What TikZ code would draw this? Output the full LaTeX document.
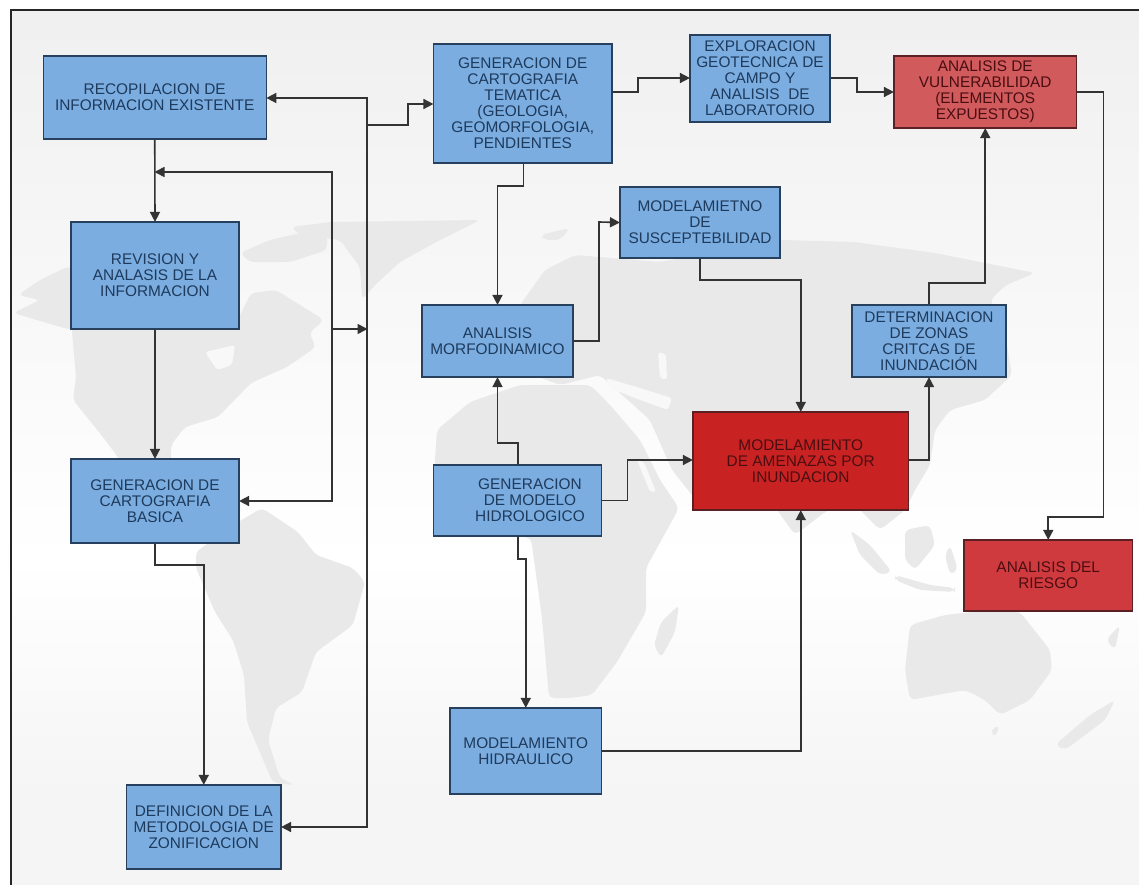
\documentclass[tikz,border=0pt]{standalone}
\usepackage{fontspec}
\setmainfont{Liberation Sans}
\usetikzlibrary{arrows.meta}
\definecolor{bluefill}{HTML}{7BADE0}
\definecolor{blueedge}{HTML}{26405E}
\definecolor{bluetext}{HTML}{1E3A5C}
\definecolor{redtext}{HTML}{4A0E12}
\definecolor{redA}{HTML}{C82222}
\definecolor{redB}{HTML}{D05A5C}
\definecolor{redC}{HTML}{CF3A3E}
\definecolor{redge}{HTML}{5A2024}
\definecolor{land}{HTML}{E9E9E9}
\definecolor{seaC}{HTML}{F8F8F8}
\definecolor{lineC}{HTML}{333333}
\tikzset{
  bluebox/.style={draw=blueedge,line width=1.2pt,fill=bluefill,text=bluetext,inner sep=0pt,align=center,
    font=\fontsize{15.4}{16}\selectfont},
  redbox/.style={draw=redge,line width=1.2pt,text=redtext,inner sep=0pt,align=center,
    font=\fontsize{15.4}{16}\selectfont},
  conn/.style={draw=lineC,line width=1.6pt},
  arr/.style={conn,-{Triangle[length=10pt,width=10pt]},shorten >=-0.5pt},
  landmass/.style={fill=land,draw=none,rounded corners=5pt},
  sea/.style={fill=seaC,draw=none,rounded corners=3pt}
}
\begin{document}
\begin{tikzpicture}[x=1pt,y=-1pt]
\useasboundingbox (0,0) rectangle (1139,885);
% page background
\fill[white] (0,0) rectangle (1139,885);
\shade[top color=black!6,bottom color=white] (11,10) rectangle (1139,560);
\shade[top color=white,bottom color=black!4] (11,560) rectangle (1139,800);
\fill[black!4] (11,800) rectangle (1139,885);
% world map
\fill[landmass] (13,313) -- (40,300) -- (18,295) -- (40,280) -- (69,266) -- (110,300) -- (71,330) -- cycle;
\fill[landmass] (71,320) -- (76,377) -- (73,400) -- (95,427) -- (109,445) -- (127,470) -- (171,470) -- (171,445) -- (185,427) -- (218,417) -- (251,383) -- (287,367) -- (316,347) -- (309,333) -- (324,320) -- (276,290) -- (251,293) -- (236,323) -- cycle;
\fill[sea] (205,352) -- (235,345) -- (232,365) -- (217,370) -- cycle;
\fill[landmass] (240,253) -- (270,240) -- (327,227) -- (327,250) -- (290,262) -- (250,262) -- cycle;
\fill[landmass] (291,227) -- (330,222) -- (480,220) -- (440,240) -- (400,262) -- (375,285) -- (362,300) -- (360,267) -- (340,240) -- (300,235) -- cycle;
\fill[landmass] (196,552) -- (233,525) -- (262,508) -- (298,532) -- (316,555) -- (353,568) -- (365,582) -- (353,625) -- (316,652) -- (302,692) -- (276,708) -- (268,740) -- (280,778) -- (295,785) -- (273,783) -- (247,722) -- (244,675) -- (233,640) -- (215,612) -- (196,568) -- cycle;
\fill[landmass] (437,430) -- (470,402) -- (520,385) -- (590,385) -- (610,405) -- (640,440) -- (660,480) -- (679,508) -- (646,568) -- (646,612) -- (617,662) -- (592,695) -- (570,698) -- (549,698) -- (542,618) -- (531,538) -- (480,530) -- (433,490) -- cycle;
\fill[landmass] (679,605) -- (675,632) -- (661,658) -- (654,645) -- (661,622) -- cycle;
\fill[landmass] (540,235) -- (570,228) -- (560,240) -- (545,240) -- cycle;
\fill[landmass] (520,305) -- (545,270) -- (575,255) -- (660,262) -- (781,240) -- (854,242) -- (935,253) -- (1035,273) -- (1006,285) -- (990,300) -- (1006,340) -- (1012,375) -- (985,400) -- (950,410) -- (935,430) -- (930,465) -- (915,490) -- (905,510) -- (880,530) -- (850,500) -- (825,512) -- (795,535) -- (770,500) -- (735,485) -- (700,505) -- (672,470) -- (650,420) -- (600,375) -- (560,385) -- (520,370) -- cycle;
\fill[sea] (606,378) -- (640,388) -- (672,398) -- (668,410) -- (640,400) -- (610,388) -- cycle;
\fill[sea] (658,352) -- (666,354) -- (667,380) -- (660,378) -- cycle;
\fill[sea] (637,460) -- (644,462) -- (656,492) -- (650,492) -- cycle;
\fill[landmass] (850,530) -- (870,545) -- (892,572) -- (880,575) -- (860,555) -- cycle;
\fill[landmass] (905,530) -- (930,525) -- (935,545) -- (915,570) -- (905,560) -- cycle;
\fill[landmass] (895,575) -- (930,585) -- (955,588) -- (955,592) -- (920,590) -- (895,580) -- cycle;
\fill[landmass] (945,555) -- (950,545) -- (958,570) -- (950,575) -- cycle;
\fill[landmass] (910,625) -- (945,615) -- (990,610) -- (1020,612) -- (1050,650) -- (1052,670) -- (1030,700) -- (1000,715) -- (985,700) -- (965,690) -- (910,700) -- (905,670) -- cycle;
\fill[landmass] (990,730) -- (1000,725) -- (995,738) -- cycle;
\fill[landmass] (1055,745) -- (1090,715) -- (1115,700) -- (1105,720) -- (1065,750) -- cycle;
\fill[landmass] (1120,625) -- (1106,640) -- (1115,650) -- cycle;
% frame
\draw[black!85,line width=2pt] (11,885) -- (11,10) -- (1139,10);
% nodes
\node[bluebox,minimum width=223pt,minimum height=83pt] (rec) at (154.75,97.5) {RECOPILACION DE\\INFORMACION EXISTENTE};
\node[bluebox,minimum width=168pt,minimum height=107pt] (rev) at (155,275.5) {REVISION Y\\ANALASIS DE LA\\INFORMACION};
\node[bluebox,minimum width=168pt,minimum height=84pt] (bas) at (155,501) {GENERACION DE\\CARTOGRAFIA\\BASICA};
\node[bluebox,minimum width=154.5pt,minimum height=84pt] (def) at (203.75,827) {DEFINICION DE LA\\METODOLOGIA DE\\ZONIFICACION};
\node[bluebox,minimum width=178.5pt,minimum height=119pt] (tem) at (522.75,103.5) {GENERACION DE\\CARTOGRAFIA\\TEMATICA\\(GEOLOGIA,\\GEOMORFOLOGIA,\\PENDIENTES};
\node[bluebox,minimum width=140pt,minimum height=87pt] (geo) at (760,78.5) {EXPLORACION\\GEOTECNICA DE\\CAMPO Y\\ANALISIS~ DE\\LABORATORIO};
\node[redbox,fill=redB,minimum width=182.5pt,minimum height=72pt] (vul) at (985.25,92) {ANALISIS DE\\VULNERABILIDAD\\(ELEMENTOS\\EXPUESTOS)};
\node[bluebox,minimum width=160pt,minimum height=71pt] (sus) at (700,222.5) {MODELAMIETNO\\DE\\SUSCEPTEBILIDAD};
\node[bluebox,minimum width=151pt,minimum height=72pt] (mor) at (497.5,341) {ANALISIS\\MORFODINAMICO};
\node[bluebox,minimum width=154pt,minimum height=72pt] (det) at (929,341) {DETERMINACION\\DE ZONAS\\CRITCAS DE\\INUNDACIÓN};
\node[bluebox,minimum width=168pt,minimum height=71pt] (hid) at (517.5,500.5) {\hspace*{25pt}GENERACION\\\hspace*{25pt}DE MODELO\\\hspace*{25pt}HIDROLOGICO};
\node[redbox,fill=redA,minimum width=215.5pt,minimum height=98pt] (ame) at (800.75,461) {MODELAMIENTO\\DE AMENAZAS POR\\INUNDACION};
\node[bluebox,minimum width=151.5pt,minimum height=86pt] (hdr) at (525.75,751) {MODELAMIENTO\\HIDRAULICO};
\node[redbox,fill=redC,minimum width=168.5pt,minimum height=71pt] (rie) at (1048.25,575.5) {ANALISIS DEL\\RIESGO};
% trunk and feedback lines
\coordinate (trT) at (367,98);
\coordinate (trB) at (367,827);
\coordinate (trM) at (367,125);
\coordinate (trJ) at (367,329);
\coordinate (fbT) at (332,172);
\coordinate (fbB) at (332,501);
\coordinate (fbM) at (332,329);
\coordinate (recrev) at (155,172);
\draw[arr] (trJ) -- (trT) -- (rec.east |- trT);
\draw[arr] (trJ) -- (trB) -- (def.east |- trB);
\draw[arr] (trM) -- (408,125) -- (408,104) -- (tem.west |- 0,104);
\draw[arr] (rec.south) -- (rev.north);
\draw[arr] (fbM) -- (fbT) -- (recrev);
\draw[arr] (fbM) -- (fbB) -- (bas.east |- fbB);
\draw[arr] (fbM) -- (trJ);
\draw[line width=2.4pt,draw=lineC] (367,305) -- (367,365);
\draw[arr] (rev.south) -- (bas.north);
\draw[arr] (bas.south) -- (155,565) -- (def.north |- 0,565) -- (def.north);
% central column
\draw[arr] (523.6,163) -- (523.6,186) -- (mor.north |- 0,186) -- (mor.north);
\draw[arr] (518,465) -- (518,443) -- (mor.south |- 0,443) -- (mor.south);
\draw[arr] (518,536) -- (518,559) -- (hdr.north |- 0,559) -- (hdr.north);
\draw[arr] (hdr.east) -- (ame.south |- hdr.east) -- (ame.south);
\draw[arr] (hid.east) -- (627.5,500.5) -- (627.5,460) -- (ame.west |- 0,460);
\draw[arr] (tem.east |- 0,92) -- (638,92) -- (638,78) -- (geo.west |- 0,78);
\draw[arr] (geo.east |- 0,78) -- (857,78) -- (857,92) -- (vul.west);
\draw[arr] (mor.east) -- (599,341) -- (599,222) -- (sus.west);
\draw[arr] (sus.south) -- (700,280) -- (ame.north |- 0,280) -- (ame.north);
\draw[arr] (ame.east |- 0,460) -- (det.south |- 0,460) -- (det.south);
\draw[arr] (det.north) -- (929,283) -- (vul.south |- 0,283) -- (vul.south);
\draw[arr] (vul.east) -- (1103.5,92) -- (1103.5,517) -- (rie.north |- 0,517) -- (rie.north);
\end{tikzpicture}
\end{document}
